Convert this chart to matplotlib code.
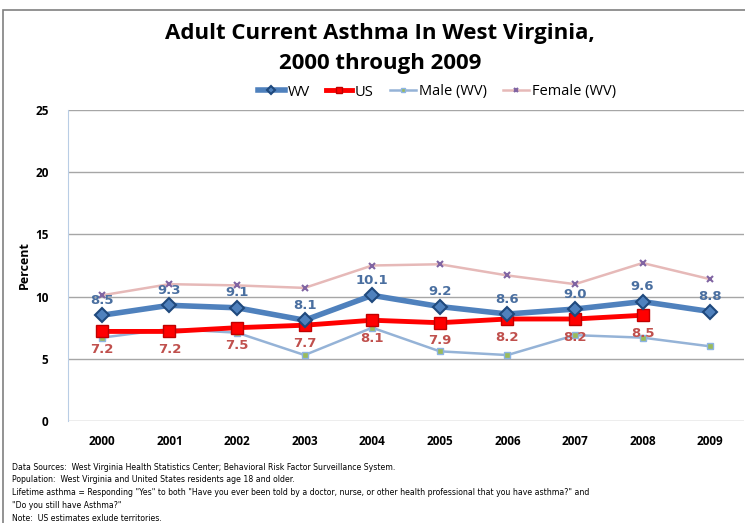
import matplotlib
matplotlib.use("Agg")
import matplotlib.pyplot as plt
from matplotlib.patches import Rectangle

years = ["2000", "2001", "2002", "2003", "2004", "2005", "2006", "2007", "2008", "2009"]
wv = [8.5, 9.3, 9.1, 8.1, 10.1, 9.2, 8.6, 9.0, 9.6, 8.8]
us = [7.2, 7.2, 7.5, 7.7, 8.1, 7.9, 8.2, 8.2, 8.5]
male = [6.7, 7.4, 7.1, 5.3, 7.5, 5.6, 5.3, 6.9, 6.7, 6.0]
female = [10.1, 11.0, 10.9, 10.7, 12.5, 12.6, 11.7, 11.0, 12.7, 11.4]
yticks = [0, 5, 10, 15, 20, 25]

plt.rcParams['font.family'] = ['Open Sans', 'DejaVu Sans']
narrow = ['Liberation Sans Narrow', 'DejaVu Sans']

fig = plt.figure(figsize=(7.45, 5.23), dpi=100)
fig.patches.append(Rectangle((3/745, -0.1), 1.1, 1 - 10/523 + 0.1, transform=fig.transFigure,
                             fill=False, edgecolor='#808080', linewidth=1.2))
ax = fig.add_axes([68/745, 1 - 421/523, (744 - 68)/745, (421 - 110)/523])

x = list(range(len(years)))
ax.plot(x, female, color='#E6B9B8', lw=1.8, marker='x', markersize=5,
        markeredgecolor='#8064A2', markeredgewidth=1.5, label='Female (WV)', zorder=3)
ax.plot(x, male, color='#95B3D7', lw=1.8, marker='s', markersize=4,
        markerfacecolor='#9BBB59', markeredgecolor='#8DB4E2', label='Male (WV)', zorder=3)
ax.plot(x[:len(us)], us, color='#FF0000', lw=3.5, marker='s', markersize=8,
        markerfacecolor='#FF0000', markeredgecolor='#C00000', label='US', zorder=4)
ax.plot(x, wv, color='#4F81BD', lw=4, marker='D', markersize=7,
        markerfacecolor='#4F81BD', markeredgecolor='#1F497D', markeredgewidth=1.5,
        label='WV', zorder=5)

for xi, v in zip(x, wv):
    ax.text(xi, v + 1.2, f"{v:.1f}", color='#4A6FA0', fontsize=9.5, fontweight='bold',
            ha='center', va='center', family=narrow)
for xi, v in zip(x, us):
    ax.text(xi, v - 1.45, f"{v:.1f}", color='#C0504D', fontsize=9.5, fontweight='bold',
            ha='center', va='center', family=narrow)

ax.set_xlim(-0.5, len(years) - 0.5)
ax.set_ylim(0, 25)
ax.set_yticks(yticks)
ax.set_yticklabels([str(t) for t in yticks], fontweight='bold', fontsize=8.5)
ax.set_xticks(x)
ax.set_xticklabels(years, fontweight='bold', fontsize=8.5)
ax.tick_params(axis='both', length=0, pad=10)
ax.tick_params(axis='y', pad=14)
ax.grid(axis='y', color='#A6A6A6', lw=1)
ax.set_axisbelow(True)
for s in ['top', 'right', 'bottom']:
    ax.spines[s].set_visible(False)
ax.spines['left'].set_color('#B9CDE5')
ax.set_ylabel('Percent', fontweight='bold', fontsize=9, labelpad=3)

fig.text(0.51, 1 - 33/523, 'Adult Current Asthma In West Virginia,', ha='center', va='center',
         fontsize=16, fontweight='bold')
fig.text(0.51, 1 - 63/523, '2000 through 2009', ha='center', va='center',
         fontsize=16, fontweight='bold')

handles, labels = ax.get_legend_handles_labels()
order = [3, 2, 1, 0]
fig.legend([handles[i] for i in order], [labels[i] for i in order], loc='center',
           bbox_to_anchor=(0.587, 1 - 92/523), ncol=4, frameon=False, fontsize=10.5,
           handlelength=1.8, handletextpad=0.2, columnspacing=1.1, markerscale=0.6)

notes = [
    'Data Sources:  West Virginia Health Statistics Center; Behavioral Risk Factor Surveillance System.',
    'Population:  West Virginia and United States residents age 18 and older.',
    'Lifetime asthma = Responding "Yes" to both "Have you ever been told by a doctor, nurse, or other health professional that you have asthma?" and',
    '"Do you still have Asthma?"',
    'Note:  US estimates exlude territories.',
]
for i, n in enumerate(notes):
    fig.text(12/745, 1 - (467 + i * 12.8)/523, n, fontsize=5.6, va='center', ha='left',
             family=narrow)

fig.savefig('out.png', dpi=100)
